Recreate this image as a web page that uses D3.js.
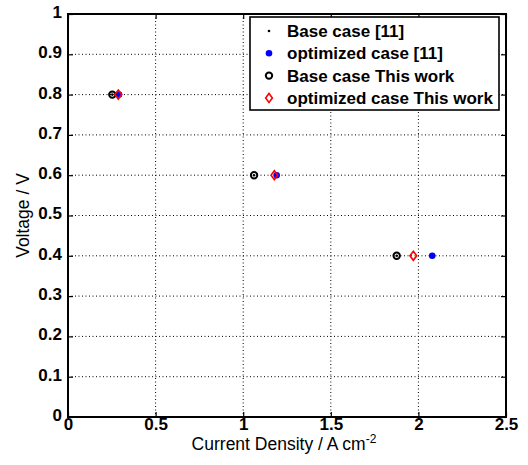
<!DOCTYPE html>
<html><head><meta charset="utf-8">
<script src="https://cdn.jsdelivr.net/npm/d3@7"></script>
<style>body{margin:0;background:#fff}svg{display:block}text{font-family:"Liberation Sans",Arial,sans-serif}</style>
</head><body><svg id="c" width="528" height="465"></svg>
<script>
const voltages = [0.8, 0.6, 0.4];
const baseRef = [0.253, 1.062, 1.876];
const optRef = [0.291, 1.191, 2.079];
const baseThis = [0.253, 1.062, 1.876];
const optThis = [0.287, 1.178, 1.971];
const xTicks = [0, 0.5, 1, 1.5, 2, 2.5];
const yTicks = [0, 0.1, 0.2, 0.3, 0.4, 0.5, 0.6, 0.7, 0.8, 0.9, 1];
const legendLabels = ["Base case [11]", "optimized case [11]", "Base case This work", "optimized case This work"];

const svg = d3.select("#c");
const L = 68, R = 506, T = 14, B = 417;
const x = d3.scaleLinear().domain([0, 2.5]).range([L, R]);
const y = d3.scaleLinear().domain([0, 1]).range([B, T]);

// grid
svg.append("g").selectAll("line").data(xTicks.slice(1, -1)).join("line")
  .attr("x1", d => x(d)).attr("x2", d => x(d)).attr("y1", T).attr("y2", B)
  .attr("stroke", "#000").attr("stroke-width", 1).attr("stroke-dasharray", "1,2.5");
svg.append("g").selectAll("line").data(yTicks.slice(1, -1)).join("line")
  .attr("y1", d => y(d)).attr("y2", d => y(d)).attr("x1", L).attr("x2", R)
  .attr("stroke", "#000").attr("stroke-width", 1).attr("stroke-dasharray", "1,2.5");

// axes
const fmt = d => String(d);
const ax = svg.append("g").attr("transform", `translate(0,${B})`)
  .call(d3.axisBottom(x).tickValues(xTicks).tickFormat(fmt).tickSize(-5).tickPadding(2));
const axT = svg.append("g").attr("transform", `translate(0,${T})`)
  .call(d3.axisTop(x).tickValues(xTicks).tickFormat("").tickSize(-5));
const ay = svg.append("g").attr("transform", `translate(${L},0)`)
  .call(d3.axisLeft(y).tickValues(yTicks).tickFormat(fmt).tickSize(-5).tickPadding(6));
const ayR = svg.append("g").attr("transform", `translate(${R},0)`)
  .call(d3.axisRight(y).tickValues(yTicks).tickFormat("").tickSize(-5));
[ax, axT, ay, ayR].forEach(g => {
  g.select(".domain").remove();
  g.selectAll(".tick line").attr("stroke", "#000").attr("stroke-width", 1.2);
  g.selectAll("text").attr("font-size", 17).attr("font-weight", "bold").attr("fill", "#000")
   .attr("font-family", '"Liberation Sans",Arial,sans-serif');
});
ax.selectAll("text").attr("y", 0).attr("dy", "0.78em");
ay.selectAll("text").attr("dy", "0.2em");

svg.append("rect").attr("x", L).attr("y", T).attr("width", R - L).attr("height", B - T)
  .attr("fill", "none").attr("stroke", "#000").attr("stroke-width", 2);

// axis titles
const xt = svg.append("text").attr("x", (L + R) / 2 - 3).attr("y", 450).attr("text-anchor", "middle")
  .attr("font-size", 17.5).attr("fill", "#000");
xt.append("tspan").text("Current Density / A cm");
xt.append("tspan").attr("dy", -7).attr("font-size", 12).text("-2");
svg.append("text").attr("transform", `translate(29,${(T + B) / 2}) rotate(-90)`)
  .attr("text-anchor", "middle").attr("font-size", 17.5).attr("fill", "#000").text("Voltage / V");

// marker drawers
function drawBaseRef(g, cx, cy) { g.append("circle").attr("cx", cx).attr("cy", cy).attr("r", 1.3).attr("fill", "#000"); }
function drawOptRef(g, cx, cy) { g.append("circle").attr("cx", cx).attr("cy", cy).attr("r", 3.3).attr("fill", "#0000ff"); }
function drawBaseThis(g, cx, cy) { g.append("circle").attr("cx", cx).attr("cy", cy).attr("r", 3.2).attr("fill", "none").attr("stroke", "#000").attr("stroke-width", 2); }
function drawOptThis(g, cx, cy) {
  const s = 4.5;
  g.append("path").attr("d", `M${cx},${cy - s}L${cx + s * 0.75},${cy}L${cx},${cy + s}L${cx - s * 0.75},${cy}Z`)
    .attr("fill", "none").attr("stroke", "#ff0000").attr("stroke-width", 1.6);
}
const drawers = [drawBaseRef, drawOptRef, drawBaseThis, drawOptThis];
const series = [baseRef, optRef, baseThis, optThis];

const pts = svg.append("g");
series.forEach((s, i) => s.forEach((v, j) => drawers[i](pts, x(v), y(voltages[j]))));

// legend
const lg = svg.append("g");
lg.append("rect").attr("x", 250).attr("y", 17).attr("width", 249).attr("height", 93)
  .attr("fill", "#fff").attr("stroke", "#000").attr("stroke-width", 1.6);
legendLabels.forEach((t, i) => {
  const cy = 31 + i * 22.3;
  drawers[i](lg, 269, cy);
  lg.append("text").attr("x", 287).attr("y", cy).attr("dy", "0.35em")
    .attr("font-size", 17).attr("font-weight", "bold").attr("fill", "#000").text(t);
});
</script></body></html>
